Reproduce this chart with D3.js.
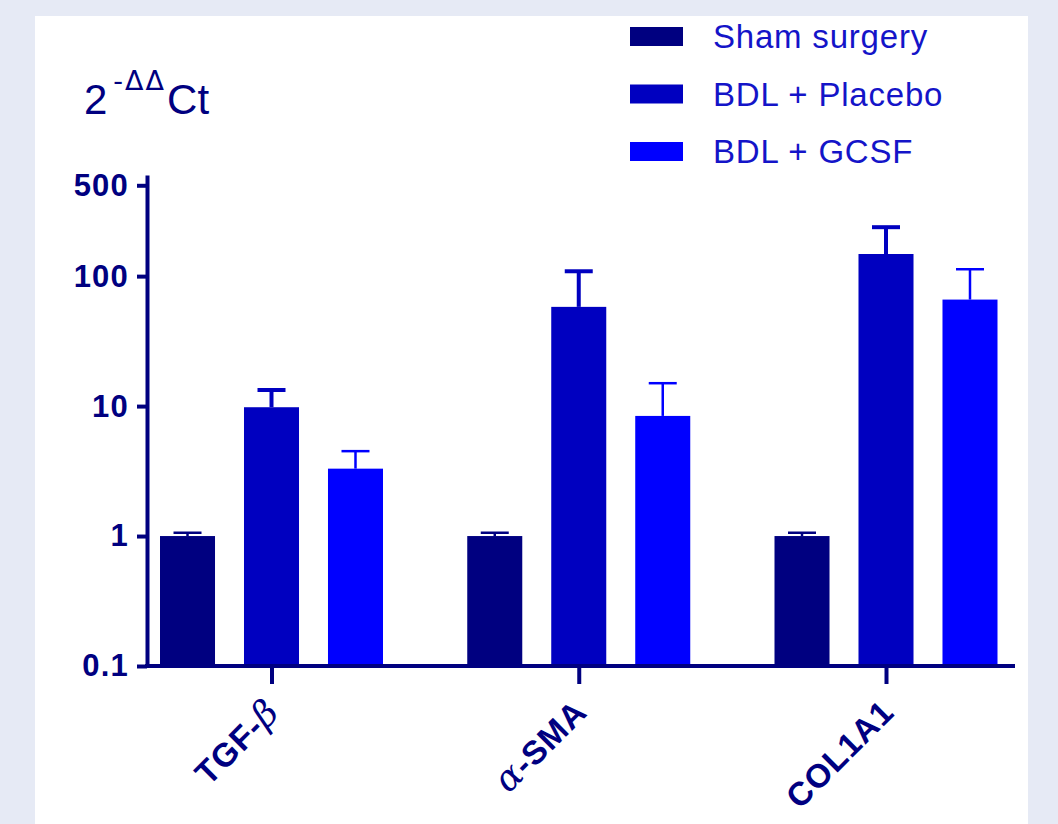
<!DOCTYPE html>
<html>
<head>
<meta charset="utf-8">
<script src="https://cdn.jsdelivr.net/npm/d3@7"></script>
<style>
  html, body { margin: 0; padding: 0; background: #e6eaf5; }
  svg { display: block; }
</style>
</head>
<body>
<svg id="chart" width="1058" height="824"></svg>
<script>
// Gene expression (2^-ΔΔCt), log scale
const genes = ["TGF-β", "α-SMA", "COL1A1"];
const groups = ["Sham surgery", "BDL + Placebo", "BDL + GCSF"];
const shamMean = [1, 1, 1];
const shamUpper = [1.06, 1.06, 1.06];
const placeboMean = [9.8, 58, 148];
const placeboUpper = [13.3, 109, 238];
const gcsfMean = [3.3, 8.4, 66];
const gcsfUpper = [4.5, 15, 113];
const yTicks = [0.1, 1, 10, 100, 500];
const groupColors = ["#000080", "#0000c0", "#0000ff"];

const means = [shamMean, placeboMean, gcsfMean];
const uppers = [shamUpper, placeboUpper, gcsfUpper];
const errWidths = [2.5, 4, 2.5];

const axisColor = "#000080";
const boldFont = "Liberation Sans, Arial, sans-serif";
const svg = d3.select("#chart");

// white panel
svg.append("rect").attr("x", 35).attr("y", 16).attr("width", 993).attr("height", 808).attr("fill", "#ffffff");

const y = d3.scaleLog().domain([0.1, 600]).range([666, 175]);
const x = d3.scalePoint().domain(genes).range([271.5, 886]);
const xInner = d3.scaleBand().domain(groups).range([-111.5, 111.5]).paddingInner(0.345).paddingOuter(0);
const axisX = 147;

const rows = [];
genes.forEach((g, gi) => {
  groups.forEach((s, si) => {
    rows.push({ gene: g, group: s, si, mean: means[si][gi], upper: uppers[si][gi] });
  });
});

// bars
svg.append("g").selectAll("rect").data(rows).join("rect")
  .attr("x", d => x(d.gene) + xInner(d.group))
  .attr("width", xInner.bandwidth())
  .attr("y", d => y(d.mean))
  .attr("height", d => y(0.1) - y(d.mean))
  .attr("fill", d => groupColors[d.si]);

// error bars (upper only)
const eb = svg.append("g").selectAll("g").data(rows).join("g")
  .attr("stroke", d => groupColors[d.si])
  .attr("stroke-width", d => errWidths[d.si]);
eb.append("line")
  .attr("x1", d => x(d.gene) + xInner(d.group) + xInner.bandwidth() / 2)
  .attr("x2", d => x(d.gene) + xInner(d.group) + xInner.bandwidth() / 2)
  .attr("y1", d => y(d.mean))
  .attr("y2", d => y(d.upper));
eb.append("line")
  .attr("x1", d => x(d.gene) + xInner(d.group) + xInner.bandwidth() / 2 - 14)
  .attr("x2", d => x(d.gene) + xInner(d.group) + xInner.bandwidth() / 2 + 14)
  .attr("y1", d => y(d.upper))
  .attr("y2", d => y(d.upper));

// y axis
const yAxis = svg.append("g").attr("transform", `translate(${axisX},0)`)
  .call(d3.axisLeft(y).tickValues(yTicks).tickFormat(d => String(d)).tickSize(10).tickSizeOuter(0).tickPadding(8));
yAxis.select(".domain").attr("stroke", axisColor).attr("stroke-width", 4);
yAxis.selectAll(".tick line").attr("stroke", axisColor).attr("stroke-width", 4);
yAxis.selectAll(".tick text")
  .attr("fill", axisColor)
  .attr("font-family", boldFont)
  .attr("font-weight", "bold")
  .attr("font-size", 31)
  .attr("letter-spacing", 1.2);

// x axis
const xAxis = svg.append("g").attr("transform", `translate(0,${y(0.1)})`)
  .call(d3.axisBottom(x).tickSize(18).tickSizeOuter(0).tickFormat(""));
xAxis.select(".domain").remove();
xAxis.selectAll(".tick line").attr("stroke", axisColor).attr("stroke-width", 4);
svg.append("line")
  .attr("x1", axisX - 2).attr("x2", 1015)
  .attr("y1", y(0.1)).attr("y2", y(0.1))
  .attr("stroke", axisColor).attr("stroke-width", 4);

// rotated category labels, Greek letters set in a serif italic
const labelParts = {
  "TGF-β": [["TGF-", false], ["β", true]],
  "α-SMA": [["α", true], ["-SMA", false]],
  "COL1A1": [["COL1A1", false]]
};
genes.forEach(g => {
  const t = svg.append("text")
    .attr("transform", `translate(${x(g) + 10},${714}) rotate(-45)`)
    .attr("text-anchor", "end")
    .attr("fill", axisColor)
    .attr("font-family", boldFont)
    .attr("font-weight", "bold")
    .attr("font-size", 33)
    .attr("letter-spacing", 1);
  labelParts[g].forEach(([txt, greek]) => {
    const ts = t.append("tspan").text(txt);
    if (greek) {
      ts.attr("font-family", "DejaVu Serif, Liberation Serif, serif")
        .attr("font-style", "italic")
        .attr("font-weight", "normal")
        .attr("font-size", 36);
    }
  });
});

// y-axis title 2^-ΔΔCt
const title = svg.append("text")
  .attr("x", 84).attr("y", 114)
  .attr("fill", axisColor)
  .attr("font-family", "Liberation Sans, Arial, sans-serif")
  .attr("font-size", 42);
title.append("tspan").text("2");
title.append("tspan").text("-ΔΔ").attr("font-size", 27).attr("dy", -24).attr("dx", 6)
  .attr("font-family", "DejaVu Sans, sans-serif").attr("letter-spacing", 2);
title.append("tspan").text("Ct").attr("dy", 24).attr("dx", 1);

// legend
const legend = svg.append("g").selectAll("g").data(groups).join("g")
  .attr("transform", (d, i) => `translate(630,${27 + i * 57.5})`);
legend.append("rect")
  .attr("width", 53).attr("height", 19)
  .attr("fill", (d, i) => groupColors[i]);
legend.append("text")
  .attr("x", 83).attr("y", 21)
  .attr("fill", "#1414c8")
  .attr("font-family", "Liberation Sans, Arial, sans-serif")
  .attr("font-size", 33)
  .attr("letter-spacing", 0.8)
  .text(d => d);
</script>
</body>
</html>
